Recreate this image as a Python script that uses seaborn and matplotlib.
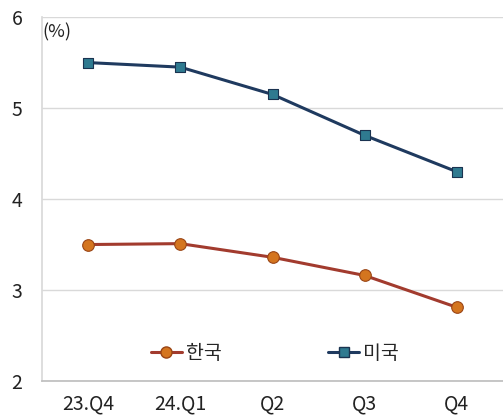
import matplotlib
matplotlib.use("Agg")
import matplotlib.pyplot as plt
import seaborn as sns
import pandas as pd
import numpy as np
from matplotlib.lines import Line2D

quarters = ["23.Q4", "24.Q1", "Q2", "Q3", "Q4"]
korea = [3.50, 3.51, 3.36, 3.16, 2.81]
usa = [5.50, 5.45, 5.15, 4.70, 4.30]
series_names = ["한국", "미국"]

sns.set_theme(style="white")
plt.rcParams["font.family"] = ["Noto Sans CJK KR", "DejaVu Sans"]

df = pd.DataFrame({
    "quarter": quarters * 2,
    "x": list(range(len(quarters))) * 2,
    "rate": korea + usa,
    "country": [series_names[0]] * len(quarters) + [series_names[1]] * len(quarters),
})

fig = plt.figure(figsize=(5.03, 4.17), dpi=100)
ax = fig.add_axes([0.0835, 0.0863, 0.9165, 0.8727])

line_colors = {"한국": "#A23B2E", "미국": "#1F3A5F"}
sns.lineplot(data=df, x="x", y="rate", hue="country", palette=line_colors,
             sort=False, linewidth=2.2, legend=False, ax=ax)

# markers drawn on top of each series
ax.scatter(range(len(quarters)), korea, s=70, marker="o", color="#D4751F",
           edgecolor="#9A4515", linewidth=0.8, zorder=4)
ax.scatter(range(len(quarters)), usa, s=55, marker="s", color="#2F7A90",
           edgecolor="#1A3350", linewidth=0.8, zorder=4)

ax.set_xlim(-0.5, len(quarters) - 0.5)
ax.set_ylim(2, 6)
ax.set_yticks([2, 3, 4, 5, 6])
ax.set_yticklabels(["2", "3", "4", "5", "6"], fontsize=14, color="#222222")
ax.set_xticks(range(len(quarters)))
ax.set_xticklabels(quarters, fontsize=14, color="#222222")
ax.tick_params(axis="x", length=0, pad=9)
ax.tick_params(axis="y", length=0, pad=14)

# category boundary ticks under the axis
ax.set_xticks(np.arange(-0.5, len(quarters) + 0.5, 1), minor=True)
ax.tick_params(axis="x", which="minor", length=6, color="#D0D0D0", width=1)

ax.grid(axis="y", color="#D9D9D9", linewidth=1)
ax.set_axisbelow(True)
ax.set_xlabel("")
ax.set_ylabel("")
for side in ["top", "right"]:
    ax.spines[side].set_visible(False)
ax.spines["left"].set_color("#D9D9D9")
ax.spines["bottom"].set_color("#BFBFBF")

ax.text(0.0, 5.93, "(%)", fontsize=13, color="#222222", va="top", ha="left",
        transform=ax.get_yaxis_transform())

# legend
handles = [
    Line2D([], [], color=line_colors["한국"], linewidth=2.2, marker="o",
           markersize=8, markerfacecolor="#D4751F", markeredgecolor="#9A4515"),
    Line2D([], [], color=line_colors["미국"], linewidth=2.2, marker="s",
           markersize=7, markerfacecolor="#2F7A90", markeredgecolor="#1A3350"),
]
ax.legend(handles, series_names, loc="lower center", bbox_to_anchor=(0.505, 0.0),
          ncol=2, frameon=False, fontsize=14, handlelength=1.6, handletextpad=0.2,
          columnspacing=5.5)

fig.savefig("out.png", dpi=100)
